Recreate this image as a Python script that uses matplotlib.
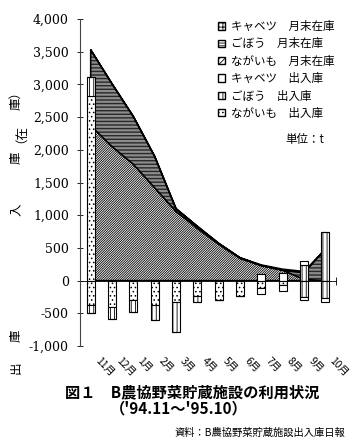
import matplotlib
matplotlib.use("Agg")
import matplotlib.pyplot as plt
import numpy as np
from matplotlib.patches import Patch

plt.rcParams['font.family'] = ['Noto Sans CJK JP', 'DejaVu Sans']
plt.rcParams['hatch.linewidth'] = 0.6
plt.rcParams['axes.unicode_minus'] = False

months = ["11月", "12月", "1月", "2月", "3月", "4月", "5月", "6月", "7月", "8月", "9月", "10月"]

# 月末在庫 (t)
cabbage_stock = [0, 0, 0, 0, 0, 0, 0, 0, 10, 15, 20, 0]
burdock_stock = [1160, 960, 730, 480, 40, 30, 10, 10, 0, 0, 100, 480]
yam_stock = [2370, 2050, 1780, 1420, 1060, 800, 560, 340, 230, 160, 20, 0]

# 入庫 (+)
cabbage_in = [0, 0, 0, 0, 0, 0, 0, 0, 100, 110, 55, 0]
burdock_in = [290, 0, 0, 0, 0, 0, 0, 0, 0, 0, 240, 740]
yam_in = [2820, 0, 0, 0, 0, 0, 0, 0, 0, 0, 0, 0]

# 出庫 (-)
cabbage_out = [0, 0, 0, 0, 0, 0, 0, 0, -90, -100, -50, -50]
burdock_out = [-120, -180, -190, -230, -460, -90, 0, 0, 0, 0, -245, -270]
yam_out = [-370, -400, -290, -370, -330, -240, -300, -240, -110, -60, 0, 0]

yticks = list(range(-1000, 4001, 500))

HATCH_YAM_STOCK = '/' * 14
HATCH_BURDOCK_STOCK = '-' * 12
HATCH_CABBAGE_STOCK = '+' * 8

fig = plt.figure(figsize=(3.58, 4.42), dpi=100)
ax = fig.add_axes([80 / 358, 1 - 346 / 442, 256 / 358, 327 / 442])

x = np.arange(len(months))

# stacked stock area
polys = ax.stackplot(x, yam_stock, burdock_stock, cabbage_stock,
                     colors=['white', 'white', 'white'],
                     edgecolor='black', linewidth=1.1, zorder=1)
polys[0].set_hatch(HATCH_YAM_STOCK)
polys[1].set_hatch(HATCH_BURDOCK_STOCK)
polys[2].set_hatch(HATCH_CABBAGE_STOCK)

# stacked in/out bars
w = 0.37
bar_kw = dict(width=w, edgecolor='black', linewidth=0.8, zorder=3)
yam_in_a = np.array(yam_in)
burdock_in_a = np.array(burdock_in)
yam_out_a = np.array(yam_out)
burdock_out_a = np.array(burdock_out)

ax.bar(x, yam_in, color='white', hatch='....', **bar_kw)
ax.bar(x, burdock_in, bottom=yam_in_a, color='white', hatch='||||', **bar_kw)
ax.bar(x, cabbage_in, bottom=yam_in_a + burdock_in_a, color='white', **bar_kw)
ax.bar(x, yam_out, color='white', hatch='....', **bar_kw)
ax.bar(x, burdock_out, bottom=yam_out_a, color='white', hatch='||||', **bar_kw)
ax.bar(x, cabbage_out, bottom=yam_out_a + burdock_out_a, color='white', **bar_kw)

ax.set_xlim(-0.5, len(months) - 0.5)
ax.set_ylim(-1000, 4000)

for s in ['top', 'right']:
    ax.spines[s].set_visible(False)
ax.spines['left'].set_color('#444444')
ax.spines['left'].set_linewidth(0.8)
ax.spines['bottom'].set_position(('data', 0))
ax.spines['bottom'].set_linewidth(0.6)
ax.spines['bottom'].set_zorder(2)

ax.set_yticks(yticks)
ax.set_yticklabels([f"{v:,}" for v in yticks], family='DejaVu Serif', fontsize=9)
ax.tick_params(axis='y', direction='inout', length=4, width=0.6, pad=6)
ax.set_xticks([len(months) - 0.5])
ax.set_xticklabels([''])
ax.tick_params(axis='x', direction='inout', length=6, width=0.6)

for i, m in enumerate(months):
    ax.text(i + 0.28, -1200, m, rotation=-45, rotation_mode='anchor',
            ha='left', va='center', fontsize=7.5, clip_on=False)

# y axis label (vertical characters)
for ch, yp in [("出", 368), ("庫", 336), ("入", 210), ("庫", 158), ("（在", 130), ("庫）", 98)]:
    fig.text(16 / 358, 1 - yp / 442, ch, rotation=90, ha='center', va='center', fontsize=9)

handles = [Patch(facecolor='white', edgecolor='black', hatch='++++'),
           Patch(facecolor='white', edgecolor='black', hatch='------'),
           Patch(facecolor='white', edgecolor='black', hatch='//////'),
           Patch(facecolor='white', edgecolor='black'),
           Patch(facecolor='white', edgecolor='black', hatch='||||'),
           Patch(facecolor='white', edgecolor='black', hatch='....')]
labels = ["キャベツ　月末在庫", "ごぼう　月末在庫", "ながいも　月末在庫",
          "キャベツ　出入庫", "ごぼう　出入庫", "ながいも　出入庫"]
fig.legend(handles, labels, loc='upper left', bbox_to_anchor=(218 / 358, 1 - 20 / 442),
           frameon=False, fontsize=8.3, handlelength=0.6, handleheight=0.6,
           handletextpad=0.5, labelspacing=0.38, borderpad=0, borderaxespad=0)

fig.text(285 / 358, 1 - 140 / 442, "単位：t", fontsize=8.3, ha='left', va='center')

fig.text(192 / 358, 1 - 392 / 442, "図１　B農協野菜貯蔵施設の利用状況",
         fontsize=11, fontweight='bold', ha='center', va='center')
fig.text(179 / 358, 1 - 408 / 442, "（'94.11～'95.10）",
         fontsize=11, fontweight='bold', ha='center', va='center')
fig.text(345 / 358, 1 - 433 / 442, "資料：B農協野菜貯蔵施設出入庫日報",
         fontsize=7.4, ha='right', va='center')

fig.savefig("out.png", dpi=100)
